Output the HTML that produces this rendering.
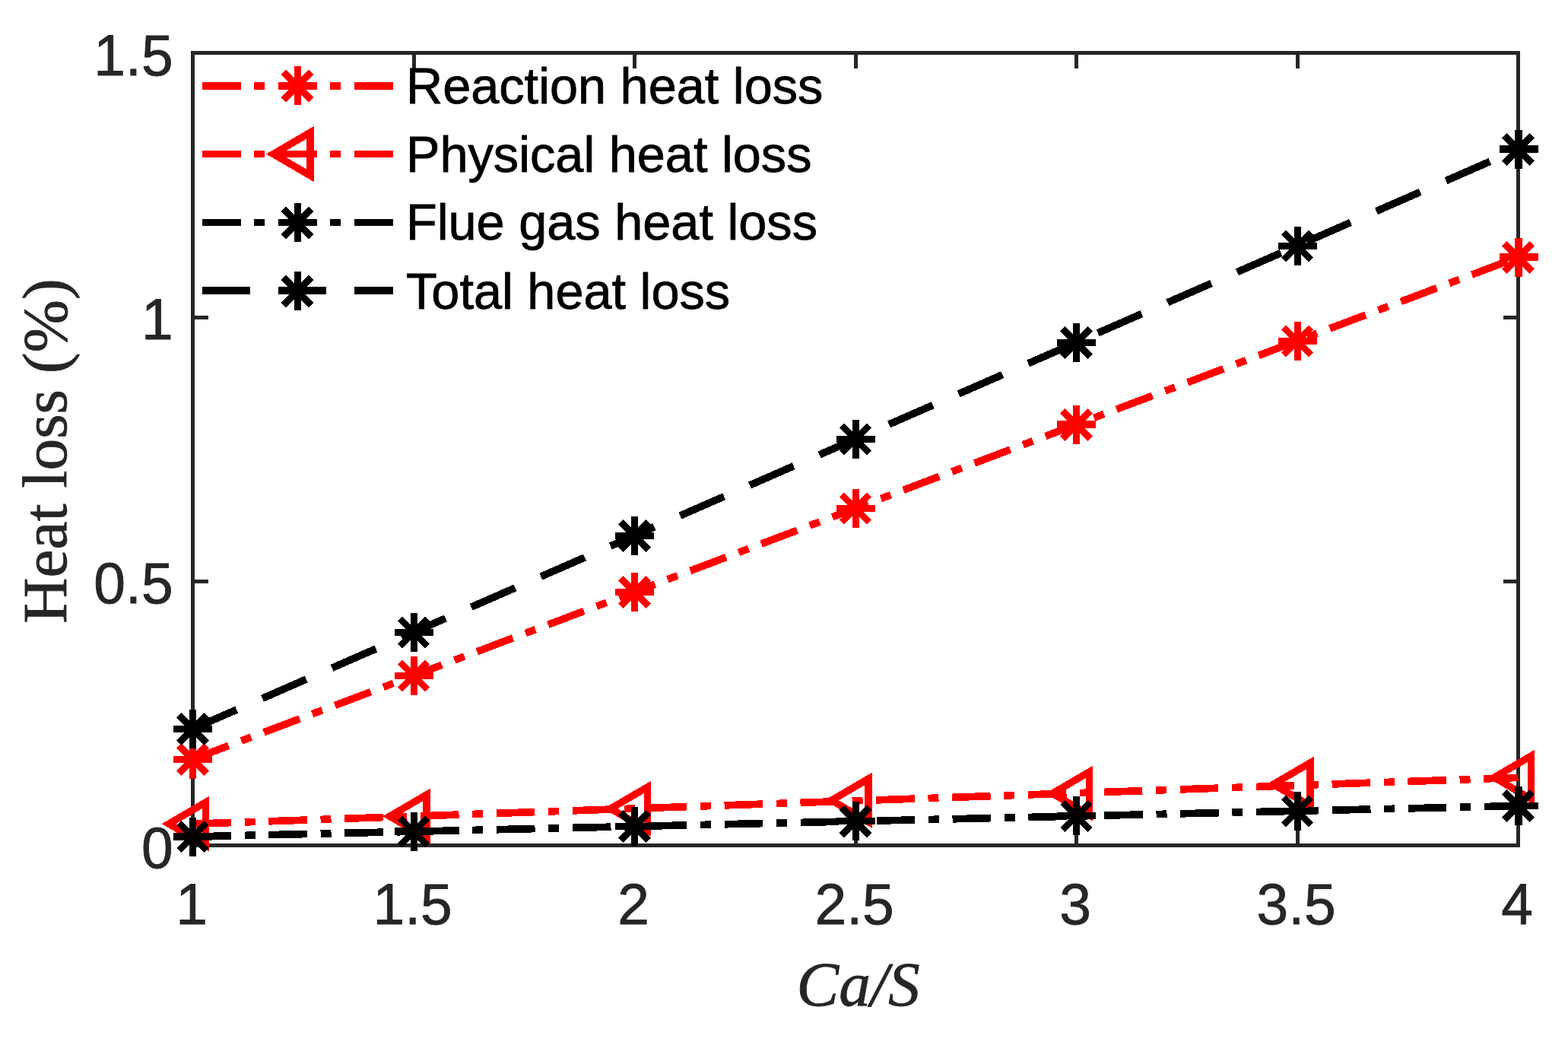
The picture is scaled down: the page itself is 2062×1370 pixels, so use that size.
<!DOCTYPE html>
<html lang="en"><head><meta charset="utf-8"><title>Heat loss vs Ca/S</title>
<style>
html,body{margin:0;padding:0;background:#fff;}
body{width:2062px;height:1370px;overflow:hidden;}
svg{display:block;}
.tick{font-family:"Liberation Sans",sans-serif;font-size:75px;fill:#262626;stroke:#262626;stroke-width:0.8px;}
.leg{font-family:"Liberation Sans",sans-serif;font-size:66.67px;fill:#000;stroke:#000;stroke-width:0.8px;}
.lab{font-family:"Liberation Serif",serif;font-size:83.33px;fill:#262626;stroke:#262626;stroke-width:0.8px;}
.g{shape-rendering:crispEdges;}
</style></head><body>
<svg width="2062" height="1370" viewBox="0 0 2062 1370">
<rect width="2062" height="1370" fill="#fff"/>
<g class="g" fill="#262626">
<rect x="251" y="67" width="1748" height="5"/>
<rect x="251" y="1109" width="1748" height="5"/>
<rect x="251" y="67" width="5" height="1047"/>
<rect x="1994" y="67" width="5" height="1047"/>
<rect x="542" y="67" width="5" height="23"/>
<rect x="542" y="1092" width="5" height="22"/>
<rect x="832" y="67" width="5" height="23"/>
<rect x="832" y="1092" width="5" height="22"/>
<rect x="1123" y="67" width="5" height="23"/>
<rect x="1123" y="1092" width="5" height="22"/>
<rect x="1413" y="67" width="5" height="23"/>
<rect x="1413" y="1092" width="5" height="22"/>
<rect x="1704" y="67" width="5" height="23"/>
<rect x="1704" y="1092" width="5" height="22"/>
<rect x="251" y="762" width="23" height="5"/>
<rect x="1977" y="762" width="22" height="5"/>
<rect x="251" y="415" width="23" height="5"/>
<rect x="1977" y="415" width="22" height="5"/>
</g>
<g class="g">
<polyline points="253.50,998.30 544.00,888.27 834.50,778.24 1125.00,668.21 1415.50,558.18 1706.00,448.15 1996.50,338.12" fill="none" stroke="#ff0000" stroke-width="9.7" stroke-dasharray="50.46 17.74 13.99 17.74"/>
<g stroke="#ff0000" fill="none"><path d="M235.40 980.40L271.60 1016.60M235.40 1016.60L271.60 980.40" stroke-width="8.8"/><path d="M228.00 998.50H279.00M253.50 973.00V1024.00" stroke-width="9.5"/></g>
<g stroke="#ff0000" fill="none"><path d="M525.90 870.37L562.10 906.57M525.90 906.57L562.10 870.37" stroke-width="8.8"/><path d="M519.00 888.50H570.00M544.50 863.00V914.00" stroke-width="9.5"/></g>
<g stroke="#ff0000" fill="none"><path d="M816.40 760.34L852.60 796.54M816.40 796.54L852.60 760.34" stroke-width="8.8"/><path d="M809.00 778.50H860.00M834.50 753.00V804.00" stroke-width="9.5"/></g>
<g stroke="#ff0000" fill="none"><path d="M1106.90 650.31L1143.10 686.51M1106.90 686.51L1143.10 650.31" stroke-width="8.8"/><path d="M1100.00 668.50H1151.00M1125.50 643.00V694.00" stroke-width="9.5"/></g>
<g stroke="#ff0000" fill="none"><path d="M1397.40 540.28L1433.60 576.48M1397.40 576.48L1433.60 540.28" stroke-width="8.8"/><path d="M1390.00 558.20H1441.00M1415.50 532.70V583.70" stroke-width="9.5"/></g>
<g stroke="#ff0000" fill="none"><path d="M1687.90 430.25L1724.10 466.45M1687.90 466.45L1724.10 430.25" stroke-width="8.8"/><path d="M1681.00 448.50H1732.00M1706.50 423.00V474.00" stroke-width="9.5"/></g>
<g stroke="#ff0000" fill="none"><path d="M1978.40 320.22L2014.60 356.42M1978.40 356.42L2014.60 320.22" stroke-width="8.8"/><path d="M1971.50 338.20H2022.50M1997.00 312.70V363.70" stroke-width="9.5"/></g>
</g>
<g class="g">
<polyline points="253.50,1083.30 544.00,1073.15 834.50,1063.00 1125.00,1052.85 1415.50,1042.70 1706.00,1032.55 1996.50,1022.40" fill="none" stroke="#ff0000" stroke-width="9.7" stroke-dasharray="50.46 17.74 13.99 17.74"/>
<path d="M270.50 1054.90L222.00 1083.20L270.50 1111.50Z" stroke="#ff0000" stroke-width="9.5" stroke-miterlimit="10" fill="none"/>
<path d="M561.00 1044.90L512.50 1073.20L561.00 1101.50Z" stroke="#ff0000" stroke-width="9.5" stroke-miterlimit="10" fill="none"/>
<path d="M851.50 1034.90L803.00 1063.20L851.50 1091.50Z" stroke="#ff0000" stroke-width="9.5" stroke-miterlimit="10" fill="none"/>
<path d="M1142.00 1023.90L1093.50 1052.20L1142.00 1080.50Z" stroke="#ff0000" stroke-width="9.5" stroke-miterlimit="10" fill="none"/>
<path d="M1432.50 1014.90L1384.00 1043.20L1432.50 1071.50Z" stroke="#ff0000" stroke-width="9.5" stroke-miterlimit="10" fill="none"/>
<path d="M1723.00 1002.90L1674.50 1031.20L1723.00 1059.50Z" stroke="#ff0000" stroke-width="9.5" stroke-miterlimit="10" fill="none"/>
<path d="M2013.50 993.90L1965.00 1022.20L2013.50 1050.50Z" stroke="#ff0000" stroke-width="9.5" stroke-miterlimit="10" fill="none"/>
</g>
<g class="g">
<polyline points="253.50,1100.00 544.00,1093.25 834.50,1086.50 1125.00,1079.75 1415.50,1073.00 1706.00,1066.25 1996.50,1059.50" fill="none" stroke="#000000" stroke-width="9.7" stroke-dasharray="50.46 17.74 13.99 17.74"/>
<g stroke="#000000" fill="none"><path d="M235.40 1082.10L271.60 1118.30M235.40 1118.30L271.60 1082.10" stroke-width="8.8"/><path d="M228.00 1100.20H279.00M253.50 1074.70V1125.70" stroke-width="9.5"/></g>
<g stroke="#000000" fill="none"><path d="M525.90 1075.35L562.10 1111.55M525.90 1111.55L562.10 1075.35" stroke-width="8.8"/><path d="M519.00 1093.20H570.00M544.50 1067.70V1118.70" stroke-width="9.5"/></g>
<g stroke="#000000" fill="none"><path d="M816.40 1068.60L852.60 1104.80M816.40 1104.80L852.60 1068.60" stroke-width="8.8"/><path d="M809.00 1086.50H860.00M834.50 1061.00V1112.00" stroke-width="9.5"/></g>
<g stroke="#000000" fill="none"><path d="M1106.90 1061.85L1143.10 1098.05M1106.90 1098.05L1143.10 1061.85" stroke-width="8.8"/><path d="M1100.00 1079.50H1151.00M1125.50 1054.00V1105.00" stroke-width="9.5"/></g>
<g stroke="#000000" fill="none"><path d="M1397.40 1055.10L1433.60 1091.30M1397.40 1091.30L1433.60 1055.10" stroke-width="8.8"/><path d="M1390.00 1072.70H1441.00M1415.50 1047.20V1098.20" stroke-width="9.5"/></g>
<g stroke="#000000" fill="none"><path d="M1687.90 1048.35L1724.10 1084.55M1687.90 1084.55L1724.10 1048.35" stroke-width="8.8"/><path d="M1681.00 1066.50H1732.00M1706.50 1041.00V1092.00" stroke-width="9.5"/></g>
<g stroke="#000000" fill="none"><path d="M1978.40 1041.60L2014.60 1077.80M1978.40 1077.80L2014.60 1041.60" stroke-width="8.8"/><path d="M1971.50 1059.50H2022.50M1997.00 1034.00V1085.00" stroke-width="9.5"/></g>
</g>
<g class="g">
<polyline points="253.50,958.30 544.00,831.27 834.50,704.24 1125.00,577.21 1415.50,450.18 1706.00,323.15 1996.50,196.12" fill="none" stroke="#000000" stroke-width="9.7" stroke-dasharray="62.95 36.98"/>
<g stroke="#000000" fill="none"><path d="M235.40 940.40L271.60 976.60M235.40 976.60L271.60 940.40" stroke-width="8.8"/><path d="M228.00 958.50H279.00M253.50 933.00V984.00" stroke-width="9.5"/></g>
<g stroke="#000000" fill="none"><path d="M525.90 813.37L562.10 849.57M525.90 849.57L562.10 813.37" stroke-width="8.8"/><path d="M519.00 831.50H570.00M544.50 806.00V857.00" stroke-width="9.5"/></g>
<g stroke="#000000" fill="none"><path d="M816.40 686.34L852.60 722.54M816.40 722.54L852.60 686.34" stroke-width="8.8"/><path d="M809.00 704.50H860.00M834.50 679.00V730.00" stroke-width="9.5"/></g>
<g stroke="#000000" fill="none"><path d="M1106.90 559.31L1143.10 595.51M1106.90 595.51L1143.10 559.31" stroke-width="8.8"/><path d="M1100.00 577.50H1151.00M1125.50 552.00V603.00" stroke-width="9.5"/></g>
<g stroke="#000000" fill="none"><path d="M1397.40 432.28L1433.60 468.48M1397.40 468.48L1433.60 432.28" stroke-width="8.8"/><path d="M1390.00 450.50H1441.00M1415.50 425.00V476.00" stroke-width="9.5"/></g>
<g stroke="#000000" fill="none"><path d="M1687.90 305.25L1724.10 341.45M1687.90 341.45L1724.10 305.25" stroke-width="8.8"/><path d="M1681.00 323.50H1732.00M1706.50 298.00V349.00" stroke-width="9.5"/></g>
<g stroke="#000000" fill="none"><path d="M1978.40 178.22L2014.60 214.42M1978.40 214.42L2014.60 178.22" stroke-width="8.8"/><path d="M1971.50 196.20H2022.50M1997.00 170.70V221.70" stroke-width="9.5"/></g>
</g>
<g class="g">
<rect x="266" y="108" width="51" height="10" fill="#ff0000"/>
<rect x="334" y="108" width="14" height="10" fill="#ff0000"/>
<rect x="366" y="108" width="51" height="10" fill="#ff0000"/>
<rect x="434" y="108" width="14" height="10" fill="#ff0000"/>
<rect x="466" y="108" width="51" height="10" fill="#ff0000"/>
<g stroke="#ff0000" fill="none"><path d="M372.90 94.90L409.10 131.10M372.90 131.10L409.10 94.90" stroke-width="8.8"/><path d="M366.00 112.50H417.00M391.50 87.00V138.00" stroke-width="9.5"/></g>
<rect x="266" y="198" width="51" height="9" fill="#ff0000"/>
<rect x="334" y="198" width="14" height="9" fill="#ff0000"/>
<rect x="366" y="198" width="51" height="9" fill="#ff0000"/>
<rect x="434" y="198" width="14" height="9" fill="#ff0000"/>
<rect x="466" y="198" width="51" height="9" fill="#ff0000"/>
<path d="M408.00 174.20L359.50 202.50L408.00 230.80Z" stroke="#ff0000" stroke-width="9.5" stroke-miterlimit="10" fill="none"/>
<rect x="266" y="288" width="51" height="9" fill="#000000"/>
<rect x="334" y="288" width="14" height="9" fill="#000000"/>
<rect x="366" y="288" width="51" height="9" fill="#000000"/>
<rect x="434" y="288" width="14" height="9" fill="#000000"/>
<rect x="466" y="288" width="51" height="9" fill="#000000"/>
<g stroke="#000000" fill="none"><path d="M372.90 274.90L409.10 311.10M372.90 311.10L409.10 274.90" stroke-width="8.8"/><path d="M366.00 292.50H417.00M391.50 267.00V318.00" stroke-width="9.5"/></g>
<rect x="266" y="377" width="63" height="10" fill="#000000"/>
<rect x="366" y="377" width="63" height="10" fill="#000000"/>
<rect x="466" y="377" width="51" height="10" fill="#000000"/>
<g stroke="#000000" fill="none"><path d="M372.90 364.90L409.10 401.10M372.90 401.10L409.10 364.90" stroke-width="8.8"/><path d="M366.00 382.50H417.00M391.50 357.00V408.00" stroke-width="9.5"/></g>
</g>
<text class="leg" x="534" y="136.3">Reaction heat loss</text>
<text class="leg" x="534" y="225.7">Physical heat loss</text>
<text class="leg" x="534" y="315.4">Flue gas heat loss</text>
<text class="leg" x="534" y="405.6">Total heat loss</text>
<text class="tick" text-anchor="end" transform="translate(227.6 1140.5) scale(1 1.005)">0</text>
<text class="tick" text-anchor="end" transform="translate(227.6 793.2) scale(1 1.005)">0.5</text>
<text class="tick" text-anchor="end" transform="translate(227.6 445.8) scale(1 1.005)">1</text>
<text class="tick" text-anchor="end" transform="translate(227.6 98.5) scale(1 1.005)">1.5</text>
<text class="tick" text-anchor="middle" transform="translate(252.2 1215) scale(1 1.005)">1</text>
<text class="tick" text-anchor="middle" transform="translate(542.7 1215) scale(1 1.005)">1.5</text>
<text class="tick" text-anchor="middle" transform="translate(833.2 1215) scale(1 1.005)">2</text>
<text class="tick" text-anchor="middle" transform="translate(1123.7 1215) scale(1 1.005)">2.5</text>
<text class="tick" text-anchor="middle" transform="translate(1414.2 1215) scale(1 1.005)">3</text>
<text class="tick" text-anchor="middle" transform="translate(1704.7 1215) scale(1 1.005)">3.5</text>
<text class="tick" text-anchor="middle" transform="translate(1995.2 1215) scale(1 1.005)">4</text>
<text class="lab" font-style="italic" text-anchor="middle" x="1128.6" y="1322.2">Ca/S</text>
<text class="lab" text-anchor="middle" transform="translate(87 593) rotate(-90)">Heat loss (%)</text>
</svg></body></html>
